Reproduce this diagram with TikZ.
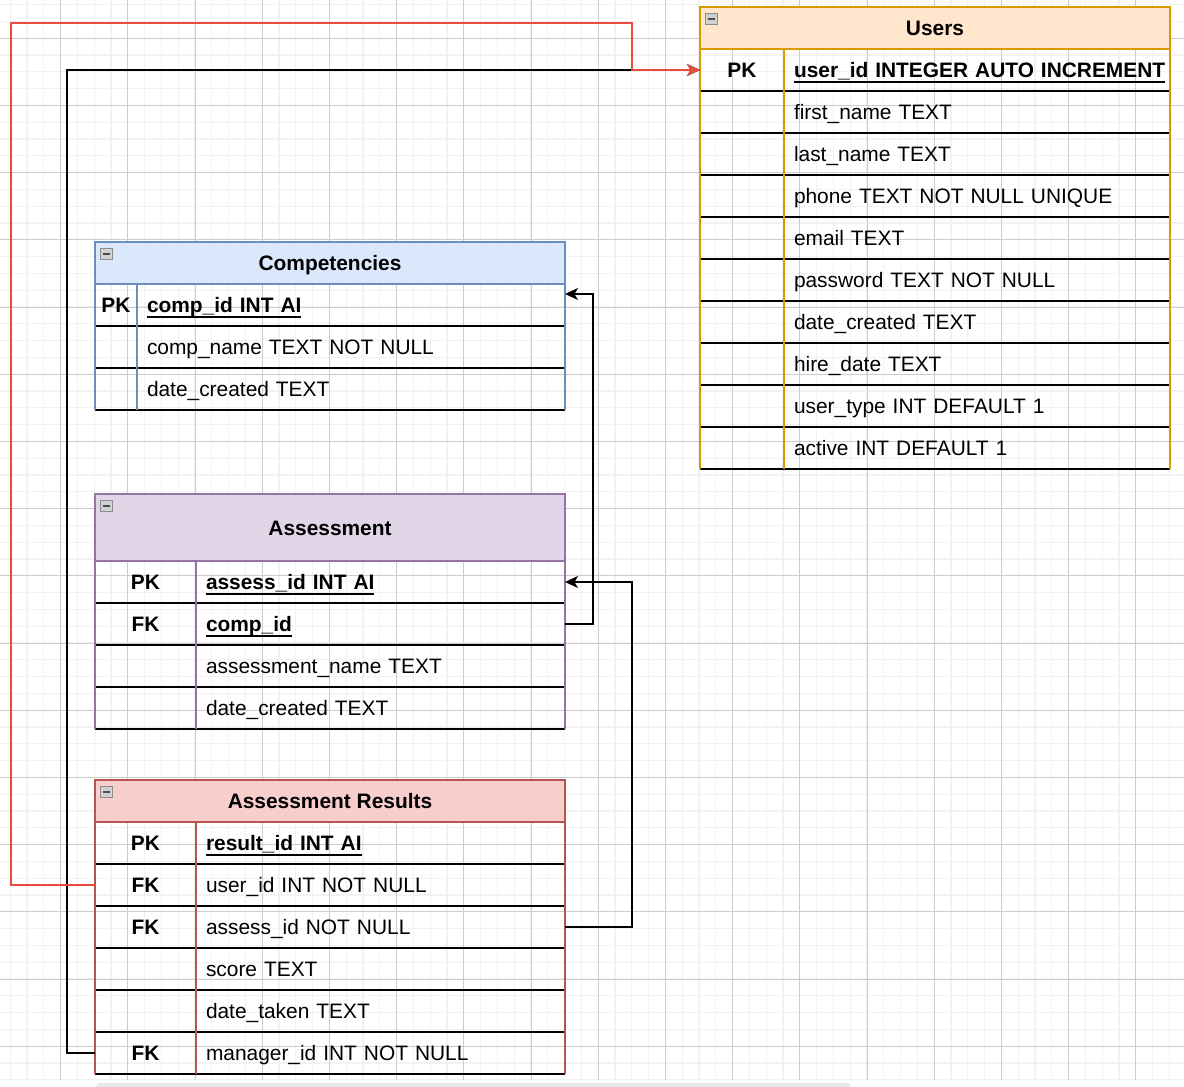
\documentclass[tikz,border=0pt]{standalone}
\usepackage{fontspec}
\setmainfont{Liberation Sans}
\usetikzlibrary{positioning, arrows.meta}

\definecolor{usersLine}{HTML}{D79B00}
\definecolor{usersFill}{HTML}{FFE6CC}
\definecolor{compLine}{HTML}{6C8EBF}
\definecolor{compFill}{HTML}{DAE8FC}
\definecolor{assessLine}{HTML}{9673A6}
\definecolor{assessFill}{HTML}{E1D5E7}
\definecolor{resultLine}{HTML}{B85450}
\definecolor{resultFill}{HTML}{F8CECC}
\definecolor{linkRed}{RGB}{231,76,60}

% bold, underlined key field
\newcommand{\pkname}[1]{\setbox0\hbox{\bfseries #1}\rlap{\rule[-5pt]{\wd0}{2pt}}\box0}

\begin{document}
\begin{tikzpicture}[
        x=1pt, y=-1pt,
        font=\fontsize{20.9}{25}\selectfont,
        Head/.style={rectangle, line width=1.5pt, minimum height=42pt, inner sep=0pt, outer sep=0pt, font=\fontsize{20.9}{25}\selectfont\bfseries, text height=15pt, text depth=0pt},
        UsersHead/.style={Head, draw=usersLine, fill=usersFill, minimum width=470pt},
        CompHead/.style={Head, draw=compLine, fill=compFill, minimum width=470pt},
        AssessHead/.style={Head, draw=assessLine, fill=assessFill, minimum width=470pt, minimum height=67pt},
        ResultHead/.style={Head, draw=resultLine, fill=resultFill, minimum width=470pt},
        Cell/.style={rectangle, minimum height=42pt, inner ysep=0pt, outer sep=0pt, text height=15pt, text depth=0pt,
            path picture={\draw[black, line width=3pt] (path picture bounding box.south west) -- (path picture bounding box.south east);}},
        Key/.style={Cell, inner xsep=0pt, font=\fontsize{20.9}{25}\selectfont\bfseries},
        Field/.style={Cell, inner xsep=10pt, align=left},
        UKey/.style={Key, minimum width=84pt},
        UField/.style={Field, text width=366pt},
        CKey/.style={Key, minimum width=42pt},
        CField/.style={Field, text width=408pt},
        AKey/.style={Key, minimum width=101pt},
        AField/.style={Field, text width=349pt},
        Border/.style={line width=1.5pt},
        Toggle/.style={rectangle, draw=black!45, fill=black!18, minimum width=12pt, minimum height=11pt, inner sep=0pt,
            path picture={\draw[line width=2.2pt, black!70] ([xshift=2.5pt]path picture bounding box.west) -- ([xshift=-2.5pt]path picture bounding box.east);}},
        Link/.style={line width=1.4pt, -{Stealth[length=13pt, width=12pt, inset=3.5pt]}},
        MinorGrid/.style={black!5, line width=1.2pt},
        MajorGrid/.style={black!20, line width=0.9pt}
    ]

    \useasboundingbox (0,0) rectangle (1184,1087);

    % background grid
    \foreach \gx in {10.2,27,...,1184} \draw[MinorGrid] (\gx,0) -- (\gx,1080);
    \foreach \gy in {4.6,21.4,...,1080} \draw[MinorGrid] (0,\gy) -- (1184,\gy);
    \foreach \gx in {60.6,127.8,...,1184} \draw[MajorGrid] (\gx,0) -- (\gx,1080);
    \foreach \gy in {38.2,105.4,...,1080} \draw[MajorGrid] (0,\gy) -- (1184,\gy);
    \fill[black!9, rounded corners=4pt] (96,1083) rectangle (851,1095);

    % Users table
    \node (users) [UsersHead, anchor=north west] at (700,7) {Users};
    \node (uK1) [UKey, below=0pt of users.south west, anchor=north west] {PK};
    \node (uF1) [UField, right=0pt of uK1] {\pkname{user\_id INTEGER AUTO INCREMENT}};
    \node (uK2) [UKey, below=0pt of uK1] {};
    \node (uF2) [UField, right=0pt of uK2] {first\_name TEXT};
    \node (uK3) [UKey, below=0pt of uK2] {};
    \node (uF3) [UField, right=0pt of uK3] {last\_name TEXT};
    \node (uK4) [UKey, below=0pt of uK3] {};
    \node (uF4) [UField, right=0pt of uK4] {phone TEXT NOT NULL UNIQUE};
    \node (uK5) [UKey, below=0pt of uK4] {};
    \node (uF5) [UField, right=0pt of uK5] {email TEXT};
    \node (uK6) [UKey, below=0pt of uK5] {};
    \node (uF6) [UField, right=0pt of uK6] {password TEXT NOT NULL};
    \node (uK7) [UKey, below=0pt of uK6] {};
    \node (uF7) [UField, right=0pt of uK7] {date\_created TEXT};
    \node (uK8) [UKey, below=0pt of uK7] {};
    \node (uF8) [UField, right=0pt of uK8] {hire\_date TEXT};
    \node (uK9) [UKey, below=0pt of uK8] {};
    \node (uF9) [UField, right=0pt of uK9] {user\_type INT DEFAULT 1};
    \node (uK10) [UKey, below=0pt of uK9] {};
    \node (uF10) [UField, right=0pt of uK10] {active INT DEFAULT 1};
    \draw[Border, usersLine] (users.south west) -- (uK10.south west) (users.south east) -- (uF10.south east) (uK1.north east) -- (uK10.south east);
    \node (usersToggle) [Toggle, anchor=north west] at ([xshift=5pt, yshift=-6pt]users.north west) {};

    % Competencies table
    \node (comp) [CompHead, anchor=north west] at (95,242) {Competencies};
    \node (cK1) [CKey, below=0pt of comp.south west, anchor=north west] {PK};
    \node (cF1) [CField, right=0pt of cK1] {\pkname{comp\_id INT AI}};
    \node (cK2) [CKey, below=0pt of cK1] {};
    \node (cF2) [CField, right=0pt of cK2] {comp\_name TEXT NOT NULL};
    \node (cK3) [CKey, below=0pt of cK2] {};
    \node (cF3) [CField, right=0pt of cK3] {date\_created TEXT};
    \draw[Border, compLine] (comp.south west) -- (cK3.south west) (comp.south east) -- (cF3.south east) (cK1.north east) -- (cK3.south east);
    \node (compToggle) [Toggle, anchor=north west] at ([xshift=5pt, yshift=-6pt]comp.north west) {};

    % Assessment table
    \node (assess) [AssessHead, anchor=north west] at (95,494) {Assessment};
    \node (aK1) [AKey, below=0pt of assess.south west, anchor=north west] {PK};
    \node (aF1) [AField, right=0pt of aK1] {\pkname{assess\_id INT AI}};
    \node (aK2) [AKey, below=0pt of aK1] {FK};
    \node (aF2) [AField, right=0pt of aK2] {\pkname{comp\_id}};
    \node (aK3) [AKey, below=0pt of aK2] {};
    \node (aF3) [AField, right=0pt of aK3] {assessment\_name TEXT};
    \node (aK4) [AKey, below=0pt of aK3] {};
    \node (aF4) [AField, right=0pt of aK4] {date\_created TEXT};
    \draw[Border, assessLine] (assess.south west) -- (aK4.south west) (assess.south east) -- (aF4.south east) (aK1.north east) -- (aK4.south east);
    \node (assessToggle) [Toggle, anchor=north west] at ([xshift=5pt, yshift=-6pt]assess.north west) {};

    % Assessment Results table
    \node (result) [ResultHead, anchor=north west] at (95,780) {Assessment Results};
    \node (rK1) [AKey, below=0pt of result.south west, anchor=north west] {PK};
    \node (rF1) [AField, right=0pt of rK1] {\pkname{result\_id INT AI}};
    \node (rK2) [AKey, below=0pt of rK1] {FK};
    \node (rF2) [AField, right=0pt of rK2] {user\_id INT NOT NULL};
    \node (rK3) [AKey, below=0pt of rK2] {FK};
    \node (rF3) [AField, right=0pt of rK3] {assess\_id NOT NULL};
    \node (rK4) [AKey, below=0pt of rK3] {};
    \node (rF4) [AField, right=0pt of rK4] {score TEXT};
    \node (rK5) [AKey, below=0pt of rK4] {};
    \node (rF5) [AField, right=0pt of rK5] {date\_taken TEXT};
    \node (rK6) [AKey, below=0pt of rK5] {FK};
    \node (rF6) [AField, right=0pt of rK6] {manager\_id INT NOT NULL};
    \draw[Border, resultLine] (result.south west) -- (rK6.south west) (result.south east) -- (rF6.south east) (rK1.north east) -- (rK6.south east);
    \node (resultToggle) [Toggle, anchor=north west] at ([xshift=5pt, yshift=-6pt]result.north west) {};

    % Foreign key links
    \draw[Link] (rK6.west) -| (67,70) -- (uK1.west);
    \draw[Link, linkRed] (rK2.west) -| (11,23) -| (632,70) -- (uK1.west);
    \draw[Link] (aF2.east) -- ++(28,0) |- ([yshift=11pt]cF1.east);
    \draw[Link] (rF3.east) -- ++(67,0) |- (aF1.east);

\end{tikzpicture}
\end{document}
